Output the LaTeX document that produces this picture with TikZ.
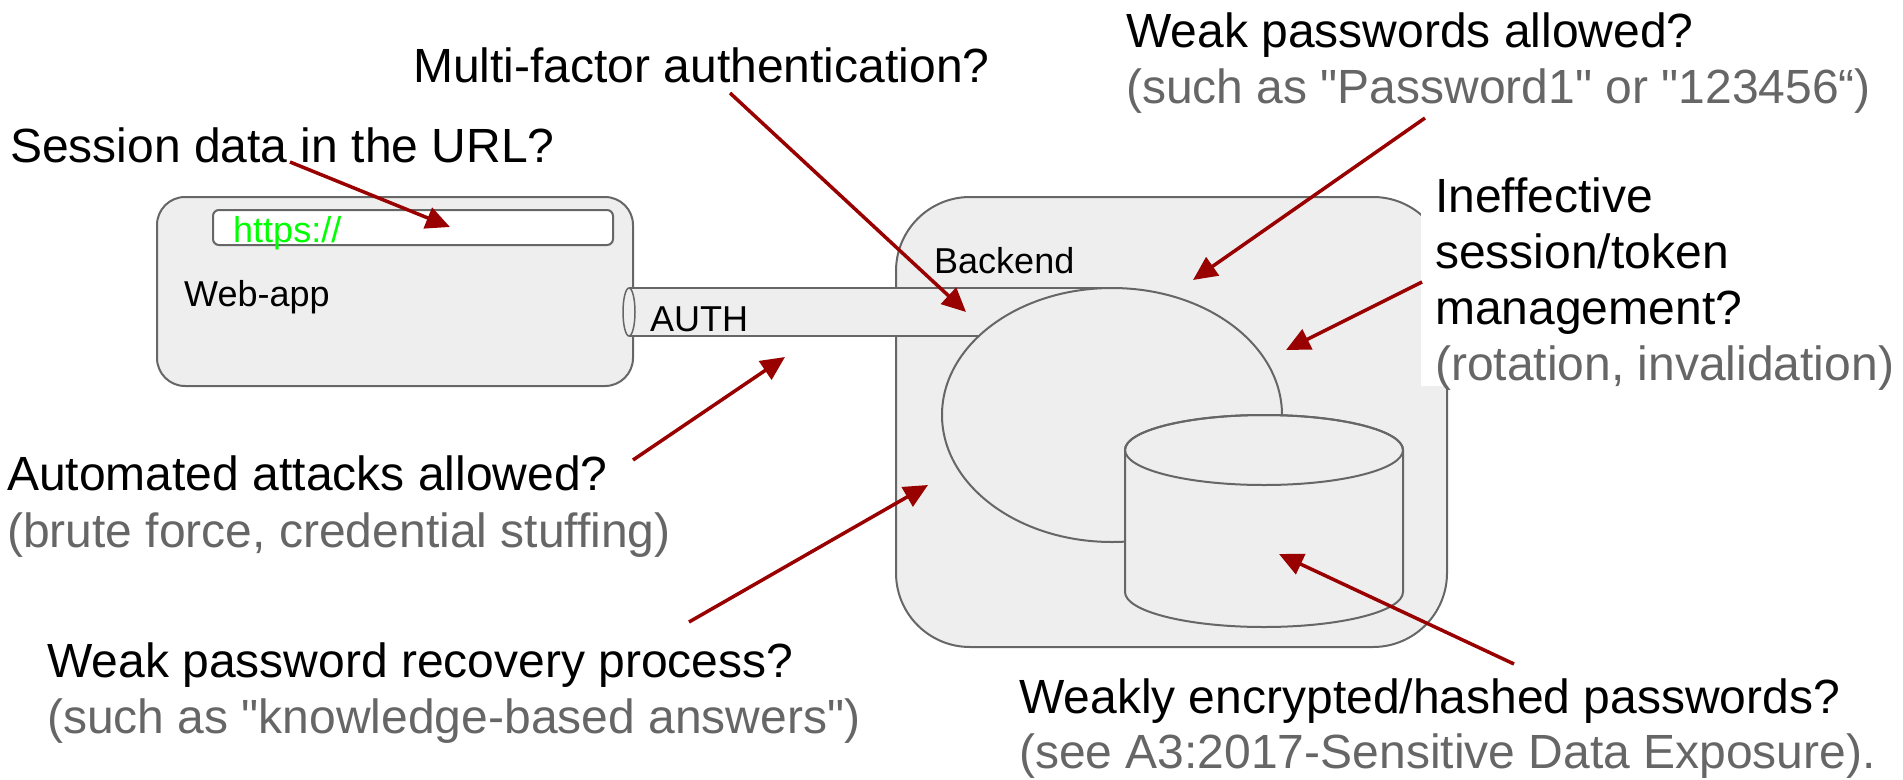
\documentclass[tikz,border=0pt]{standalone}
\usepackage{fontspec}
\setmainfont{Liberation Sans}[Ligatures=TeXOff]
\usetikzlibrary{arrows.meta}
\definecolor{arrowred}{HTML}{990000}
\definecolor{notegray}{HTML}{666666}
\definecolor{edgegray}{HTML}{666666}
\definecolor{panel}{HTML}{EEEEEE}
\definecolor{urlgreen}{HTML}{00FF00}

\begin{document}
\begin{tikzpicture}[x=1pt,y=-1pt,
  big/.style={font=\fontsize{48}{56}\selectfont, inner sep=0pt, anchor=base west},
  small/.style={font=\fontsize{36}{42}\selectfont, inner sep=0pt, anchor=base west},
  hint/.style={big, text=notegray},
  panelshape/.style={draw=edgegray, line width=2pt, fill=panel},
  pointer/.style={draw=arrowred, line width=3.5pt, -{Triangle[length=24pt,width=22pt]}},
]
\useasboundingbox (0,0) rectangle (1903,779);

% Web application window with its address bar
\draw[panelshape, rounded corners=28pt] (157,197) rectangle (633,386);
\draw[draw=edgegray, line width=2pt, fill=white, rounded corners=6pt] (213,210) rectangle (613,245);

% Backend container
\draw[panelshape, rounded corners=74pt] (896,197) rectangle (1447,647);

% AUTH pipe between the two
\fill[panel] (629,288) rectangle (1110,336);
\draw[edgegray, line width=2pt] (629,288) -- (1110,288) (629,336) -- (1110,336);
\draw[edgegray, line width=1.5pt, fill=panel] (629,312) ellipse [x radius=6, y radius=24];

% Authentication service
\draw[panelshape] (1112,415) ellipse [x radius=170, y radius=127];

% Credential store
\path[panelshape] (1125,450) -- (1125,592)
  arc[start angle=180, end angle=0, x radius=139, y radius=35]
  -- (1403,450)
  arc[start angle=0, end angle=-180, x radius=139, y radius=35] -- cycle;
\draw[edgegray, line width=2pt] (1264,450) ellipse [x radius=139, y radius=35];

% White backing of the session/token note
\fill[white] (1421,150) rectangle (1903,386);

% Labels inside the shapes
\node[small, text=urlgreen] (url) at (233,242) {https://};
\node[small] (webapp) at (184,306) {Web-app};
\node[small] (auth) at (650,331) {AUTH};
\node[small] (backend) at (934,273) {Backend};

% Questions
\node[big] (sess) at (10,162) {Session data in the URL?};
\node[big] (mfa) at (413,82) {Multi-factor authentication?};
\node[big] (weak) at (1126,47) {Weak passwords allowed?};
\node[hint] (weakx) at (1126,103) {(such as "Password1" or "123456“)};
\node[big] (ineffa) at (1435,212) {Ineffective};
\node[big] (ineffb) at (1435,268) {session/token};
\node[big] (ineffc) at (1435,324) {management?};
\node[hint] (ineffd) at (1435,380) {(rotation, invalidation)};
\node[big] (auto) at (7,490) {Automated attacks allowed?};
\node[hint] (autox) at (7,547) {(brute force, credential stuffing)};
\node[big] (recov) at (47,677) {Weak password recovery process?};
\node[hint] (recovx) at (47,733) {(such as "knowledge-based answers")};
\node[big] (hash) at (1019,713) {Weakly encrypted/hashed passwords?};
\node[hint] (hashx) at (1019,768) {(see A3:2017-Sensitive Data Exposure).};

% Arrow ends
\coordinate (sessT) at (290,162);   \coordinate (sessH) at (450,227);
\coordinate (mfaT) at (730,93);     \coordinate (mfaH) at (966,312);
\coordinate (weakT) at (1425,118);  \coordinate (weakH) at (1193,280);
\coordinate (ineffT) at (1422,282); \coordinate (ineffH) at (1286,350);
\coordinate (autoT) at (633,460);   \coordinate (autoH) at (785,357);
\coordinate (recovT) at (689,622);  \coordinate (recovH) at (928,485);
\coordinate (hashT) at (1514,664);  \coordinate (hashH) at (1279,554);

\draw[pointer] (sessT) -- (sessH);
\draw[pointer] (mfaT) -- (mfaH);
\draw[pointer] (weakT) -- (weakH);
\draw[pointer] (ineffT) -- (ineffH);
\draw[pointer] (autoT) -- (autoH);
\draw[pointer] (recovT) -- (recovH);
\draw[pointer] (hashT) -- (hashH);
\end{tikzpicture}
\end{document}
